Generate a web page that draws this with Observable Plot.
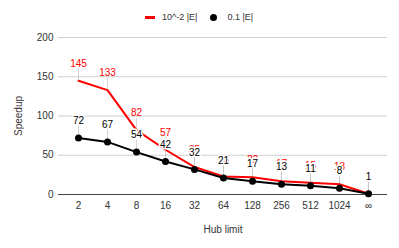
<!DOCTYPE html>
<html><head><meta charset="utf-8">
<script src="https://cdn.jsdelivr.net/npm/d3@7"></script>
<script src="https://cdn.jsdelivr.net/npm/@observablehq/plot@0.6"></script>
<style>
body{margin:0;font-family:"Liberation Sans",Arial,sans-serif;background:#fff}
#wrap{position:relative;width:399px;height:248px}
#legend{position:absolute;top:12px;left:145px;font-size:9px;color:#333;display:flex;align-items:center;line-height:10px;white-space:nowrap}
.sw-line{display:inline-block;width:10px;height:3px;margin-right:7px}
.sw-dot{display:inline-block;width:7px;height:7px;border-radius:50%;margin-left:13px;margin-right:10px}
</style></head>
<body><div id="wrap"><div id="legend"></div></div>
<script>
const hubLimits = ["2","4","8","16","32","64","128","256","512","1024","∞"];
const speedupSmall = [145,133,82,57,35,23,22,17,15,13,1];   // 10^-2 |E|
const speedupLarge = [72,67,54,42,32,21,17,13,11,8,1];      // 0.1 |E|
const seriesNames = ["10^-2 |E|","0.1 |E|"];
const seriesColors = ["#ff0000","#000000"];
const yTicks = [0,50,100,150,200];

const rowsSmall = hubLimits.map((h,i)=>({h, v: speedupSmall[i]}));
const rowsLarge = hubLimits.map((h,i)=>({h, v: speedupLarge[i]}));

const legend = document.getElementById("legend");
legend.innerHTML =
  `<span class="sw-line" style="background:${seriesColors[0]}"></span><span>${seriesNames[0]}</span>` +
  `<span class="sw-dot" style="background:${seriesColors[1]}"></span><span>${seriesNames[1]}</span>`;

const font = '"Liberation Sans",Arial,sans-serif';
const chart = Plot.plot({
  width: 399, height: 248,
  marginTop: 37, marginBottom: 54, marginLeft: 58, marginRight: 12,
  style: {fontFamily: font, fontSize: "10px", color: "#333", background: "transparent"},
  x: {type: "point", domain: hubLimits, padding: 0.5, label: null},
  y: {domain: [0, 200], label: null},
  marks: [
    Plot.gridY(yTicks, {stroke: "#d0d0d0", strokeOpacity: 1}),
    Plot.axisY(yTicks, {tickSize: 0, tickPadding: 5, label: "Speedup", labelArrow: "none", labelAnchor: "center", labelOffset: 44, fill: "#333"}),
    Plot.axisX({tickSize: 0, tickPadding: 7, label: "Hub limit", labelArrow: "none", labelAnchor: "center", labelOffset: 38, fill: "#333"}),
    Plot.ruleY([0], {stroke: "#444"}),
    Plot.ruleX(rowsLarge, {x: "h", y1: "v", y2: "v", insetTop: -12, stroke: "#bbb", strokeOpacity: 0.6}),
    Plot.ruleX(rowsSmall, {x: "h", y1: "v", y2: "v", insetTop: -12, stroke: "#bbb", strokeOpacity: 0.6}),
    Plot.line(rowsSmall, {x: "h", y: "v", stroke: seriesColors[0], strokeWidth: 2}),
    Plot.line(rowsLarge, {x: "h", y: "v", stroke: seriesColors[1], strokeWidth: 2}),
    Plot.dot(rowsLarge, {x: "h", y: "v", r: 3.5, fill: seriesColors[1]}),
    Plot.text(rowsSmall, {x: "h", y: "v", text: d => String(d.v), dy: -17, fill: seriesColors[0], fontSize: 10}),
    Plot.text(rowsLarge, {x: "h", y: "v", text: d => String(d.v), dy: -17, fill: "black", stroke: "white", strokeWidth: 3, fontSize: 10})
  ]
});
document.getElementById("wrap").appendChild(chart);
</script>
</body></html>
